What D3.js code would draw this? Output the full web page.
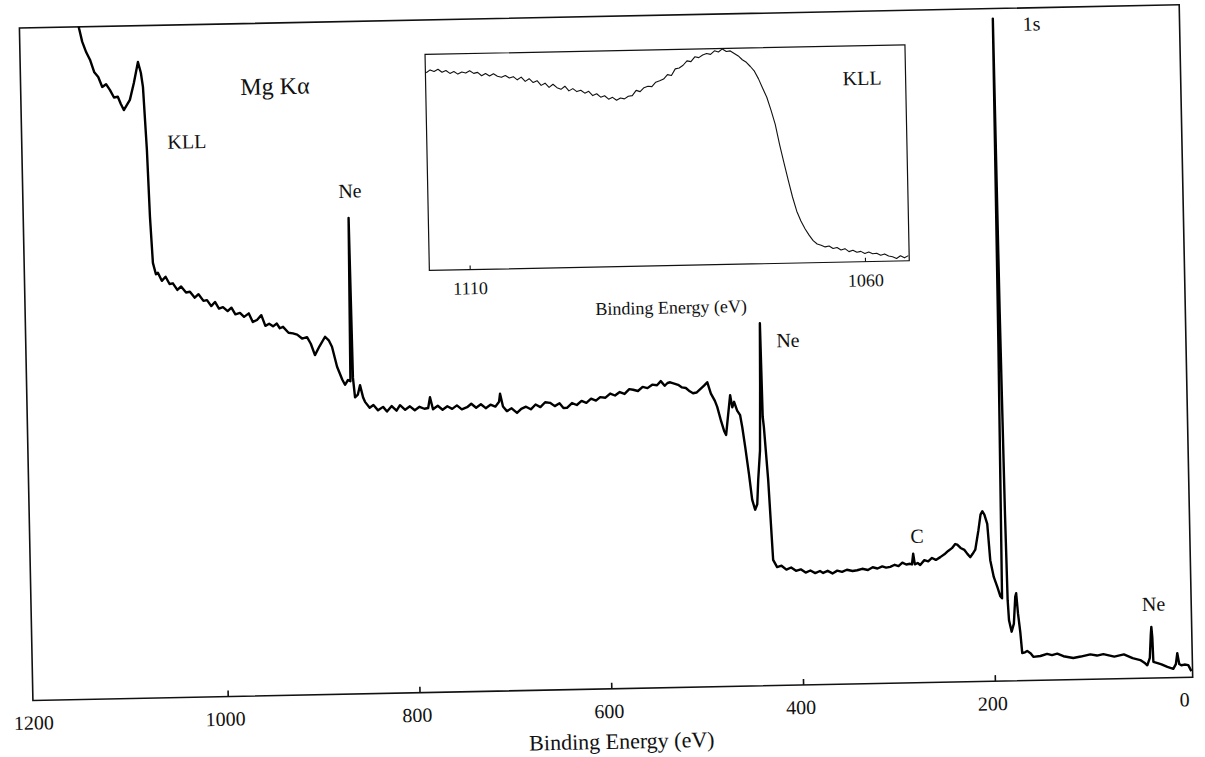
<!DOCTYPE html>
<html>
<head>
<meta charset="utf-8">
<script src="https://cdnjs.cloudflare.com/ajax/libs/d3/7.8.5/d3.min.js"></script>
<style>
body { margin: 0; background: #fff; }
</style>
</head>
<body>
<div class="chart"></div>
<script>
var w = 1205;
var h = 757;
var serif = '"Liberation Serif", "Times New Roman", serif';

// survey spectrum, [binding energy (eV), intensity (arb.)]
var tickValues = [1200, 1000, 800, 600, 400, 200, 0];
var mainSpectrum = [
  [1146,104],[1141,99.8],[1138,97.8],[1134,96.2],[1130,95.0],[1126,93.2],[1122,92.5],[1118,91.0],[1114,91.4],[1110,90.5],
  [1106,89.4],[1102,89.5],[1099,88.4],[1096,87.5],[1093,88.2],[1089.5,89.0],[1085,91.5],[1080.3,94.6],[1077.5,93.0],[1075.6,90.9],
  [1072.8,81.5],[1071,71.5],[1068.9,64.7],[1066,63.0],[1063.9,63.2],[1060,62.0],[1056,62.6],[1052,61.5],[1048.5,61.6],[1044,60.6],
  [1040,61.1],[1035,60.2],[1030.9,60.3],[1026,59.4],[1022,59.9],[1017,58.9],[1013.3,59.0],[1009,58.1],[1005,58.7],[1001,57.7],
  [996.8,57.9],[992,57.3],[988,57.8],[984,56.8],[979.2,57.0],[975,56.4],[970,56.9],[966,55.6],[961.6,55.9],[957,56.6],
  [953,55.0],[949,55.3],[945,54.9],[941,55.3],[938,54.6],[934.6,54.8],[929,53.9],[924.4,53.8],[920,53.6],[915,53.0],
  [909.8,53.2],[906,52.2],[901.9,50.5],[897,51.8],[891,53.2],[887,52.6],[884,51.7],[879.1,48.7],[874,46.8],[871.2,46.0],
  [868,46.7],[865.5,46.5],[864,70.8],[862.8,47.0],[861,44.1],[858,44.5],[855.6,45.9],[852.5,44.0],[850.7,43.4],[846,42.5],
  [842,42.9],[837.3,42.1],[832,42.6],[828,41.9],[823,42.7],[818,42.0],[814.3,42.8],[809,42.1],[804,42.6],[799,42.0],
  [794,42.5],[789,42.2],[785,42.3],[782.9,43.9],[780,42.1],[775,42.6],[770,42.0],[765,42.5],[760,42.1],[755,42.6],
  [750,42.0],[744.4,42.3],[740,42.8],[735,42.2],[730,42.7],[725,42.1],[720,42.6],[715,42.3],[711,43.0],[709.8,44.2],
  [707,42.3],[703,41.6],[698,42.0],[692.5,41.3],[688,41.9],[683,42.2],[678,41.8],[673,42.5],[668,42.1],[663,42.8],
  [657.9,42.7],[653,42.2],[648,42.6],[644,41.9],[640.3,41.9],[635,42.6],[630,42.3],[625,42.9],[620,42.6],[615,43.2],
  [610,42.9],[605.5,43.4],[600,43.3],[595,43.9],[590,43.6],[585,44.1],[580,43.8],[575,44.5],[571,44.4],[566,44.2],
  [561,44.8],[556,44.6],[551,45.1],[546,45.0],[542,45.6],[538,44.9],[535,45.3],[532.2,45.4],[528,45.2],[524,45.0],
  [520,44.6],[516,44.5],[512,44.0],[508.6,43.7],[505,43.8],[501,44.3],[497,44.8],[493.6,45.3],[490,43.6],[486,42.5],
  [483.7,41.6],[480,39.5],[477,38.0],[475,37.4],[473,39.8],[470,43.3],[468,41.5],[466,42.3],[463,41.0],[460,40.3],
  [458,38.5],[455.4,35.6],[452,31.5],[449.2,27.7],[446.3,26.2],[444,27.0],[442.5,30.6],[440,35.0],[438.5,45.0],[437.5,53.9],
  [436.5,40.0],[435.5,38.5],[432.1,30.6],[428.6,18.7],[424.6,17.6],[420,17.8],[415,17.2],[410,17.5],[405,17.0],[400,17.2],
  [395,16.7],[390,17.0],[385,16.6],[380,16.9],[376.7,16.6],[372,16.9],[367,16.5],[362,16.9],[357,16.7],[352,17.0],
  [346,16.8],[341.2,16.9],[336,17.1],[330,16.9],[325,17.3],[320,17.1],[315,17.4],[311,17.2],[306.7,17.3],[302,17.6],
  [298,17.4],[294,17.9],[290,17.6],[286,17.7],[284,17.6],[282.5,19.2],[281,17.6],[278,17.8],[275.4,17.5],[271,18.2],
  [267,18.0],[263,18.5],[259,18.2],[254.3,18.6],[250,19.0],[246,19.5],[242,19.9],[238.5,20.5],[236.4,20.4],[233,19.9],
  [229,19.6],[226,19.0],[223,18.5],[220.5,19.0],[217.7,19.6],[214,22.5],[211.5,24.8],[209.6,25.3],[207.5,24.8],[204.7,23.4],
  [202.3,18.0],[199,15.5],[195.5,14.0],[192.5,12.6],[190.8,12.3],[189.3,50],[188.3,98.5],[187.3,55],[186,25],[185,12],
  [184,9.0],[181.5,7.3],[179,8.5],[177,12.5],[176,13.0],[174.5,10.0],[172.5,7.2],[170.9,4.1],[168,4.2],[165.7,4.4],
  [162,4.0],[159.4,3.5],[152,3.6],[145,3.9],[140,3.7],[134.4,3.9],[128,3.5],[117.8,3.2],[110,3.4],[100,3.7],
  [93,3.5],[86.4,3.7],[75,3.3],[65,3.6],[56,3.0],[48,2.7],[43,2.2],[40.8,1.9],[38,3.0],[36.5,6.5],
  [35.8,7.6],[35,6.0],[34.4,2.4],[30,2.2],[26,2.0],[19.9,1.6],[13.8,1.3],[11,2.0],[9.3,3.6],[7.5,2.0],
  [5.3,1.8],[2,1.9],[-1.9,1.8],[-5,0.9]
];

// KLL region, inset
var insetTickValues = [1110, 1060];
var insetSpectrum = [
  [1115.0,91.5],[1114.5,92.8],[1114.0,92.0],[1113.5,93.0],[1113.0,91.6],[1112.5,92.4],[1112.0,91.0],[1111.5,91.8],[1111.0,90.6],[1110.5,91.5],
  [1110.0,91.0],[1109.5,92.0],[1109.0,90.8],[1108.5,91.2],[1108.0,89.6],[1107.5,90.6],[1107.0,89.4],[1106.5,90.4],[1106.0,89.2],[1105.5,88.7],
  [1105.0,89.5],[1104.5,88.3],[1104.0,88.9],[1103.5,87.4],[1103.0,88.6],[1102.5,86.6],[1102.0,87.8],[1101.5,86.0],[1101.0,86.8],[1100.5,84.6],
  [1100.0,85.6],[1099.5,83.6],[1099.0,85.0],[1098.5,83.4],[1098.0,82.6],[1097.5,84.0],[1097.0,81.8],[1096.5,82.8],[1096.0,81.4],[1095.5,82.0],
  [1095.0,80.6],[1094.5,81.4],[1094.0,79.4],[1093.5,80.2],[1093.0,78.6],[1092.5,79.2],[1092.0,77.6],[1091.5,78.4],[1091.0,77.0],[1090.5,78.0],
  [1090.0,77.6],[1089.5,78.8],[1089.0,79.0],[1088.5,81.4],[1088.0,80.8],[1087.5,82.6],[1087.0,83.2],[1086.5,83.0],[1086.0,85.0],[1085.5,85.6],
  [1085.0,86.4],[1084.5,88.4],[1084.0,88.0],[1083.5,91.0],[1083.0,91.4],[1082.5,92.6],[1082.0,94.6],[1081.5,94.2],[1081.0,96.4],[1080.5,96.0],
  [1080.0,97.2],[1079.5,97.8],[1079.0,97.4],[1078.5,99.0],[1078.0,98.4],[1077.5,99.8],[1077.0,98.6],[1076.5,98.8],[1076.0,97.6],[1075.5,96.4],
  [1075.0,94.6],[1074.5,93.4],[1074.0,91.4],[1073.5,89.2],[1073.0,85.6],[1072.5,81.2],[1072.0,77.0],[1071.5,71.0],[1071.0,64.4],[1070.5,55.0],
  [1070.0,46.6],[1069.5,38.5],[1069.0,30.6],[1068.5,24.0],[1068.0,19.4],[1067.5,15.8],[1067.0,12.8],[1066.5,10.2],[1066.0,8.6],[1065.5,8.0],
  [1065.0,7.2],[1064.5,7.6],[1064.0,6.4],[1063.5,6.8],[1063.0,5.6],[1062.5,6.2],[1062.0,4.8],[1061.5,5.4],[1061.0,4.4],[1060.5,4.8],
  [1060.0,3.8],[1059.5,4.4],[1059.0,3.6],[1058.5,3.8],[1058.0,2.8],[1057.5,3.4],[1057.0,2.4],[1056.5,2.0],[1056.0,1.2],[1055.5,2.4],
  [1055.0,1.4],[1054.5,2.4]
];

// annotations, placed in data coordinates
var peakLabels = [
  {text: "Mg K\u03b1", e: 938, c: 89.4, size: 24},
  {text: "KLL", e: 1031, c: 81.6, size: 20},
  {text: "Ne", e: 862, c: 73.8, size: 20},
  {text: "Ne", e: 408.6, c: 50.3, size: 20},
  {text: "C", e: 278, c: 20.8, size: 20},
  {text: "1s", e: 148, c: 96.6, size: 20},
  {text: "Ne", e: 33, c: 10.0, size: 20}
];
var insetLabels = [
  {text: "KLL", e: 1059.9, c: 81.9, size: 20}
];

var svg = d3.select('.chart')
            .append("svg")
            .attr("width", w)
            .attr("height", h)
            .style("background", "#fff");

// the scanned figure sits slightly tilted (right side higher)
var page = svg.append("g")
              .attr("transform", "rotate(-1.15,600,350)");

var x = d3.scaleLinear().domain([1200, 0]).range([29, 1180]);
var y = d3.scaleLinear().domain([0, 100]).range([689, 16.5]);

page.append("clipPath")
    .attr("id", "plotclip")
    .append("rect")
    .attr("x", 26).attr("y", 16.5)
    .attr("width", 1160).attr("height", 672.5);

page.append("rect")
    .attr("x", 26).attr("y", 16.5)
    .attr("width", 1160).attr("height", 672.5)
    .attr("fill", "none")
    .attr("stroke", "#111")
    .attr("stroke-width", 1.6);

var line = d3.line()
             .x(function(d) { return x(d[0]); })
             .y(function(d) { return y(d[1]); });

page.append("path")
    .datum(mainSpectrum)
    .attr("d", line)
    .attr("fill", "none")
    .attr("stroke", "#000")
    .attr("stroke-width", 2.4)
    .attr("stroke-linejoin", "round")
    .attr("clip-path", "url(#plotclip)");

var xAxis = d3.axisBottom(x)
              .tickValues(tickValues)
              .tickSize(-6)
              .tickPadding(15)
              .tickFormat(d3.format("d"));

var ax = page.append("g")
             .attr("transform", "translate(0,689)")
             .call(xAxis);
ax.attr("font-family", serif)
  .attr("font-size", 20);
ax.select(".domain").remove();
ax.selectAll(".tick line")
  .attr("stroke", "#111")
  .attr("stroke-width", 1.6)
  .style("display", function(d) { return (d == 1200 || d == 0) ? "none" : null; });
ax.selectAll(".tick text")
  .attr("fill", "#111")
  .attr("dx", -3);

page.append("text")
    .attr("x", 614)
    .attr("y", 749)
    .attr("text-anchor", "middle")
    .attr("font-family", serif)
    .attr("font-size", 22)
    .attr("fill", "#111")
    .text("Binding Energy (eV)");

page.selectAll(".peaklabel")
    .data(peakLabels)
    .enter()
    .append("text")
    .attr("class", "peaklabel")
    .attr("x", function(d) { return x(d.e); })
    .attr("y", function(d) { return y(d.c); })
    .attr("text-anchor", "middle")
    .attr("font-family", serif)
    .attr("font-size", function(d) { return d.size; })
    .attr("fill", "#111")
    .text(function(d) { return d.text; });

// inset
var xi = d3.scaleLinear().domain([1115.1, 1054.4]).range([431, 911]);
var yi = d3.scaleLinear().domain([0, 100]).range([267, 51]);

var inset = page.append("g");

inset.append("rect")
     .attr("x", 431).attr("y", 51)
     .attr("width", 480).attr("height", 216)
     .attr("fill", "#fff")
     .attr("stroke", "#111")
     .attr("stroke-width", 1.2);

var insetLine = d3.line()
                  .x(function(d) { return xi(d[0]); })
                  .y(function(d) { return yi(d[1]); });

inset.append("path")
     .datum(insetSpectrum)
     .attr("d", insetLine)
     .attr("fill", "none")
     .attr("stroke", "#111")
     .attr("stroke-width", 1.1)
     .attr("stroke-linejoin", "round");

var xiAxis = d3.axisBottom(xi)
               .tickValues(insetTickValues)
               .tickSize(-4)
               .tickPadding(12)
               .tickFormat(d3.format("d"));

var iax = inset.append("g")
               .attr("transform", "translate(0,267)")
               .call(xiAxis);
iax.attr("font-family", serif)
   .attr("font-size", 18);
iax.select(".domain").remove();
iax.selectAll(".tick line").attr("stroke", "#111").attr("stroke-width", 1.1);
iax.selectAll(".tick text").attr("fill", "#111");

inset.append("text")
     .attr("x", 672)
     .attr("y", 315)
     .attr("text-anchor", "middle")
     .attr("font-family", serif)
     .attr("font-size", 18)
     .attr("fill", "#111")
     .text("Binding Energy (eV)");

inset.selectAll(".insetlabel")
     .data(insetLabels)
     .enter()
     .append("text")
     .attr("class", "insetlabel")
     .attr("x", function(d) { return xi(d.e); })
     .attr("y", function(d) { return yi(d.c); })
     .attr("text-anchor", "middle")
     .attr("font-family", serif)
     .attr("font-size", function(d) { return d.size; })
     .attr("fill", "#111")
     .text(function(d) { return d.text; });
</script>
</body>
</html>
